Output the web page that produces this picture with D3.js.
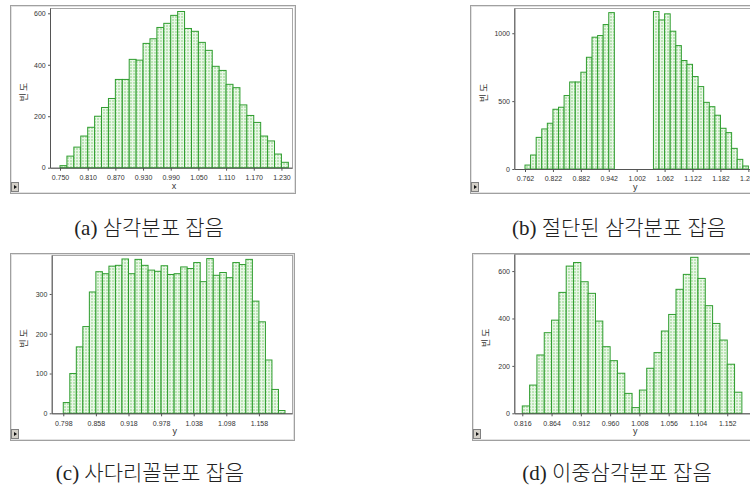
<!DOCTYPE html>
<html lang="ko">
<head>
<meta charset="utf-8">
<script src="https://d3js.org/d3.v7.min.js"></script>
<style>
  body { margin: 0; background: #fff; }
</style>
</head>
<body>
<script>
var width = 750, height = 490;

// (a) triangular noise
var aStart = 0.750, aBin = 0.015;
var aCounts = [8,45,80,123,157,200,234,269,343,343,421,418,483,501,545,561,592,607,541,530,
               487,456,394,378,324,311,244,203,176,123,104,53,21];
var aTicks = [0.750,0.810,0.870,0.930,0.990,1.050,1.110,1.170,1.230];
var aYTicks = [0,200,400,600];

// (b) truncated triangular noise (zeros = empty gap)
var bStart = 0.762, bBin = 0.012;
var bCounts = [29,103,233,295,337,440,455,541,641,641,713,823,971,983,1064,1152,
               0,0,0,0,0,0,0,
               1160,1098,1143,1015,909,799,771,681,607,491,459,396,300,268,152,71,22];
var bTicks = [0.762,0.822,0.882,0.942,1.002,1.062,1.122,1.182,1.242];
var bYTicks = [0,500,1000];

// (c) trapezoidal noise
var cStart = 0.798, cBin = 0.012;
var cCounts = [27,100,167,218,305,356,351,370,372,388,351,387,372,360,357,371,349,351,368,364,
               379,331,389,347,354,341,379,374,387,282,230,134,60,7];
var cTicks = [0.798,0.858,0.918,0.978,1.038,1.098,1.158];
var cYTicks = [0,100,200,300];

// (d) double triangular noise
var dStart = 0.816, dBin = 0.012;
var dCounts = [31,119,246,340,393,510,621,636,555,506,389,281,222,169,84,24,
               98,190,256,347,417,523,586,658,569,454,379,309,207,89];
var dTicks = [0.816,0.864,0.912,0.960,1.008,1.056,1.104,1.152];
var dYTicks = [0,200,400,600];

var captions = ['(a) 삼각분포 잡음', '(b) 절단된 삼각분포 잡음', '(c) 사다리꼴분포 잡음', '(d) 이중삼각분포 잡음'];

var svg = d3.select('body').append('svg')
  .attr('width', width)
  .attr('height', height);

// light green grid texture of the bars
var pat = svg.append('defs').append('pattern')
  .attr('id', 'grid')
  .attr('width', 3).attr('height', 3)
  .attr('patternUnits', 'userSpaceOnUse');
pat.append('rect').attr('width', 3).attr('height', 3).attr('fill', '#bce5b6');
pat.append('path').attr('d', 'M0,0.5H3M0.5,0V3')
  .attr('stroke', '#eaf7e8').attr('stroke-width', 1);

var panels = [
  { counts: aCounts, start: aStart, bin: aBin, ticks: aTicks, yTicks: aYTicks,
    frame: [10, 5, 285, 188], plot: [50, 8, 292, 167.7], xDomain: [0.7283, 1.2529], yMax: 620.6,
    xLabel: 'x', caption: captions[0], capX: 149, capY: 235 },
  { counts: bCounts, start: bStart, bin: bBin, ticks: bTicks, yTicks: bYTicks,
    frame: [470, 5, 300, 188], plot: [514.3, 8, 760, 169], xDomain: [0.739, 1.267], yMax: 1186,
    xLabel: 'y', caption: captions[1], capX: 619, capY: 235 },
  { counts: cCounts, start: cStart, bin: cBin, ticks: cTicks, yTicks: cYTicks,
    frame: [10, 253, 284, 187], plot: [51.7, 255, 292, 413.3], xDomain: [0.7767, 1.2189], yMax: 398,
    xLabel: 'y', caption: captions[2], capX: 150, capY: 480 },
  { counts: dCounts, start: dStart, bin: dBin, ticks: dTicks, yTicks: dYTicks,
    frame: [472, 253, 300, 187], plot: [514.3, 254, 752, 413.3], xDomain: [0.8029, 1.1926], yMax: 672,
    xLabel: 'y', caption: captions[3], capX: 617, capY: 480 }
];

panels.forEach(drawPanel);

function drawPanel(p) {
  var g = svg.append('g');
  var f = p.frame, pl = p.plot;

  // window frame
  g.append('rect')
    .attr('x', f[0] + 0.5).attr('y', f[1] + 0.5)
    .attr('width', f[2]).attr('height', f[3])
    .attr('fill', '#fff').attr('stroke', '#a0a0a0');
  g.append('rect')
    .attr('x', f[0] + 1.5).attr('y', f[1] + 1.5)
    .attr('width', f[2] - 2).attr('height', f[3] - 2)
    .attr('fill', 'none').attr('stroke', '#e2e2e2');

  var x = d3.scaleLinear().domain(p.xDomain).range([pl[0], pl[2]]);
  var y = d3.scaleLinear().domain([0, p.yMax]).range([pl[3], pl[1]]);

  // plot box
  g.append('rect')
    .attr('x', pl[0] + 0.5).attr('y', pl[1] + 0.5)
    .attr('width', pl[2] - pl[0]).attr('height', pl[3] - pl[1])
    .attr('fill', 'none').attr('stroke', '#a8a8a8');

  var bins = p.counts.map(function(c, i) {
    return { x0: p.start + i * p.bin, x1: p.start + (i + 1) * p.bin, n: c };
  }).filter(function(d) { return d.n > 0; });

  g.selectAll('rect.bar')
    .data(bins)
    .join('rect')
    .attr('class', 'bar')
    .attr('x', function(d) { return x(d.x0); })
    .attr('width', function(d) { return x(d.x1) - x(d.x0); })
    .attr('y', function(d) { return y(d.n); })
    .attr('height', function(d) { return y(0) - y(d.n); })
    .attr('fill', 'url(#grid)')
    .attr('stroke', '#2f9d2f')
    .attr('stroke-width', 1);

  var xAxis = d3.axisBottom(x)
    .tickValues(p.ticks)
    .tickSize(3).tickSizeOuter(0)
    .tickFormat(d3.format('.3f'));
  var gx = g.append('g')
    .attr('transform', 'translate(0,' + pl[3] + ')')
    .call(xAxis);

  var yAxis = d3.axisLeft(y)
    .tickValues(p.yTicks)
    .tickSize(2).tickSizeOuter(0)
    .tickFormat(d3.format('d'));
  var gy = g.append('g')
    .attr('transform', 'translate(' + pl[0] + ',0)')
    .call(yAxis);

  [gx, gy].forEach(function(a) {
    a.select('.domain').attr('stroke', '#555');
    a.selectAll('.tick line').attr('stroke', '#555');
    a.selectAll('.tick text')
      .attr('fill', '#333')
      .style('font-size', '7px')
      .style('font-family', '"Liberation Sans", Arial, sans-serif');
  });
  gx.selectAll('.tick text').attr('dy', '0.9em');
  gy.selectAll('.tick text').attr('dx', '0.1em');

  // axis titles
  g.append('text')
    .attr('x', (pl[0] + Math.min(pl[2], 750)) / 2 + 3)
    .attr('y', pl[3] + 21)
    .attr('text-anchor', 'middle')
    .attr('fill', '#333')
    .style('font-size', '9px')
    .style('font-family', '"Liberation Sans", Arial, sans-serif')
    .text(p.xLabel);

  g.append('text')
    .attr('transform', 'translate(' + (f[0] + 17) + ',' + (pl[1] + (pl[3] - pl[1]) * 0.52) + ') rotate(-90)')
    .attr('text-anchor', 'middle')
    .attr('letter-spacing', 2)
    .attr('fill', '#333')
    .style('font-size', '9px')
    .style('font-family', '"Noto Sans CJK KR", sans-serif')
    .text('빈도');

  // little play button at the bottom left corner
  var bx = f[0] + 1.5, by = f[1] + f[3] - 10.5;
  g.append('rect')
    .attr('x', bx).attr('y', by).attr('width', 7).attr('height', 9)
    .attr('fill', '#d4d0c8').attr('stroke', '#808080');
  g.append('path')
    .attr('d', 'M' + (bx + 2.5) + ',' + (by + 2.5) + 'l3,2l-3,2z')
    .attr('fill', '#111');

  // caption
  svg.append('text')
    .attr('x', p.capX).attr('y', p.capY)
    .attr('text-anchor', 'middle')
    .attr('fill', '#222')
    .style('font-size', '21px')
    .style('font-weight', 300)
    .style('font-family', '"Liberation Serif", "Noto Sans CJK KR", serif')
    .text(p.caption);
}
</script>
</body>
</html>
